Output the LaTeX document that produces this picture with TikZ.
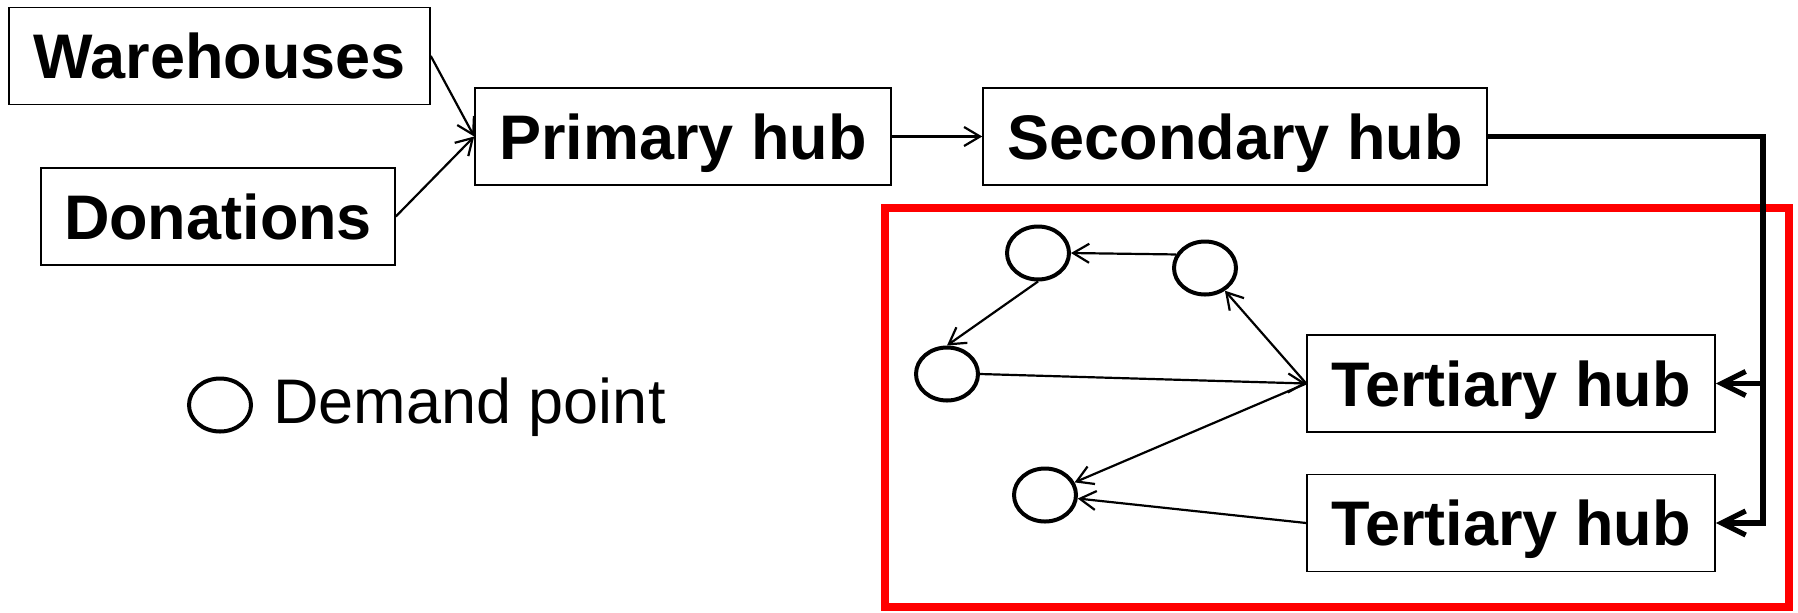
\documentclass[tikz,border=0pt]{standalone}
\usepackage{fontspec}
\setmainfont{Liberation Sans}
\usetikzlibrary{arrows.meta,shapes.geometric}

\begin{document}
\begin{tikzpicture}[x=0.5pt,y=-0.5pt,
    hub/.style={draw, line width=0.8pt, inner sep=0pt, font=\fontsize{31.5}{36}\selectfont\bfseries,
      text height=22.5pt, text depth=0pt, minimum height=48.5pt},
    demand/.style={draw, ellipse, line width=2pt, minimum width=31pt, minimum height=26.5pt, inner sep=0pt},
    flow/.style={line width=1.1pt, -{Straight Barb[length=8pt,width=9.5pt]}},
    feed/.style={line width=2.6pt, -{Straight Barb[length=12pt,width=12pt]}}]
  \useasboundingbox (0,0) rectangle (1798,612);
  % service area
  \draw [red, line width=4pt] (885,208) rectangle (1789,607);
  % supply chain
  \node [hub, minimum width=210.5pt] (wh) at (219.5,56) {Warehouses};
  \node [hub, minimum width=177pt] (don) at (218,216.5) {Donations};
  \node [hub, minimum width=208pt] (ph) at (683,136.5) {Primary hub};
  \node [hub, minimum width=252pt] (sh) at (1235,136.5) {Secondary hub};
  \node [hub, minimum width=204pt] (th1) at (1511,383.5) {Tertiary hub};
  \node [hub, minimum width=204pt] (th2) at (1511,523) {Tertiary hub};
  % demand points
  \node [demand] (a) at (1038,253) {};
  \node [demand] (b) at (1205,268) {};
  \node [demand] (c) at (947,374) {};
  \node [demand] (d) at (1045,495) {};
  % legend
  \node [demand] (key) at (220,405) {};
  \node [anchor=west, inner sep=0pt, font=\fontsize{31.5}{36}\selectfont, text height=22.5pt, text depth=0pt] (keytext) at (273,401) {Demand point};
  \draw [flow] (wh.east) -- (ph.west);
  \draw [flow] (don.east) -- (ph.west);
  \draw [flow] (ph) -- (sh);
  \coordinate (bus) at (1763,136.5);
  \draw [feed] (sh.east) -- (bus) |- (th1.east);
  \draw [feed] (bus) |- (th2.east);
  \draw [flow] (b.155) -- (a.east);
  \draw [flow] (a.south) -- (c.north);
  \draw [flow] (th1.west) -- (b);
  \draw [flow] (c.east) -- (th1.west);
  \draw [flow] (th1.west) -- (d);
  \draw [flow] (th2.west) -- (d);
\end{tikzpicture}
\end{document}
